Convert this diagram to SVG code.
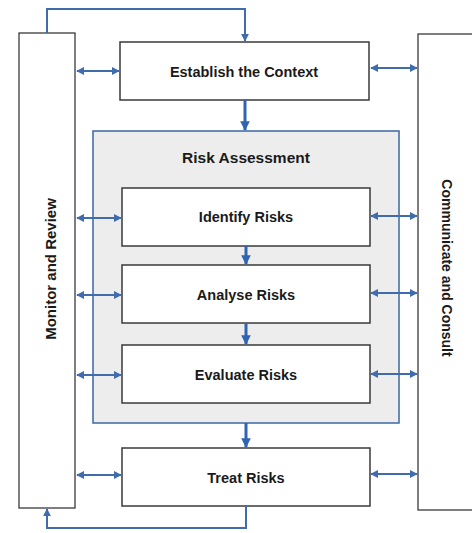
<svg xmlns="http://www.w3.org/2000/svg" width="472" height="533" viewBox="0 0 472 533">
  <style>
    .node { fill: #ffffff; stroke: #3a3a3a; stroke-width: 1.5; }
    .side { fill: #ffffff; stroke: #3a3a3a; stroke-width: 1.3; }
    .group { fill: #ededed; stroke: #3b66a3; stroke-width: 1.5; }
    .lbl { font-family: "Liberation Sans", Arial, sans-serif; font-weight: bold; font-size: 14.5px; fill: #1a1a1a; text-anchor: middle; }
    .title { font-size: 15.5px; }
    .vert { font-size: 15px; }
    .vert2 { font-size: 14px; }
    .link { fill: none; stroke: #3e6cad; stroke-width: 2; }
    .flow { fill: none; stroke: #2f65b0; stroke-width: 3; }
  </style>
  <defs>
    <marker id="ah" viewBox="0 0 10 10" refX="9" refY="5" markerWidth="4" markerHeight="4" orient="auto-start-reverse" markerUnits="strokeWidth">
      <path d="M0,0 L10,5 L0,10 z" fill="#3e6cad"/>
    </marker>
    <marker id="ahf" viewBox="0 0 10 10" refX="9" refY="5" markerWidth="3.2" markerHeight="3.2" orient="auto" markerUnits="strokeWidth">
      <path d="M0,0 L10,5 L0,10 z" fill="#2f65b0"/>
    </marker>
  </defs>

  <!-- side columns -->
  <g id="monitor-review">
    <rect class="side" x="19" y="33" width="56" height="475"/>
    <text class="lbl vert" transform="translate(56 269) rotate(-90)">Monitor and Review</text>
  </g>
  <g id="communicate-consult">
    <rect class="side" x="418" y="34" width="60" height="476"/>
    <text class="lbl vert2" transform="translate(442 268) rotate(90)">Communicate and Consult</text>
  </g>

  <!-- risk assessment container -->
  <g id="risk-assessment">
    <rect class="group" x="93" y="131" width="306" height="292"/>
    <text class="lbl title" x="246" y="163">Risk Assessment</text>
  </g>

  <g id="establish-context">
    <rect class="node" x="120" y="42" width="249" height="58"/>
    <text class="lbl" x="244" y="77">Establish the Context</text>
  </g>
  <g id="identify-risks">
    <rect class="node" x="122" y="188" width="248" height="58"/>
    <text class="lbl" x="246" y="222">Identify Risks</text>
  </g>
  <g id="analyse-risks">
    <rect class="node" x="122" y="265" width="248" height="58"/>
    <text class="lbl" x="246" y="300">Analyse Risks</text>
  </g>
  <g id="evaluate-risks">
    <rect class="node" x="122" y="345" width="248" height="58"/>
    <text class="lbl" x="246" y="380">Evaluate Risks</text>
  </g>
  <g id="treat-risks">
    <rect class="node" x="122" y="448" width="248" height="58"/>
    <text class="lbl" x="246" y="483">Treat Risks</text>
  </g>

  <g id="connectors">
    <!-- main flow -->
    <line class="flow" x1="245" y1="100" x2="245" y2="130" marker-end="url(#ahf)"/>
    <line class="flow" x1="246" y1="246" x2="246" y2="264" marker-end="url(#ahf)"/>
    <line class="flow" x1="246" y1="323" x2="246" y2="344" marker-end="url(#ahf)"/>
    <line class="flow" x1="246" y1="423" x2="246" y2="447" marker-end="url(#ahf)"/>

    <!-- feedback loops -->
    <polyline class="link" points="47,33 47,9 245,9 245,41" marker-end="url(#ah)"/>
    <polyline class="link" points="246,506 246,528 47,528 47,509" marker-end="url(#ah)"/>

    <!-- monitor and review links -->
    <line class="link" x1="77" y1="71" x2="119" y2="71" marker-start="url(#ah)" marker-end="url(#ah)"/>
    <line class="link" x1="77" y1="218" x2="121" y2="218" marker-start="url(#ah)" marker-end="url(#ah)"/>
    <line class="link" x1="77" y1="295" x2="121" y2="295" marker-start="url(#ah)" marker-end="url(#ah)"/>
    <line class="link" x1="77" y1="375" x2="121" y2="375" marker-start="url(#ah)" marker-end="url(#ah)"/>
    <line class="link" x1="77" y1="475" x2="121" y2="475" marker-start="url(#ah)" marker-end="url(#ah)"/>

    <!-- communicate and consult links -->
    <line class="link" x1="371" y1="68" x2="417" y2="68" marker-start="url(#ah)" marker-end="url(#ah)"/>
    <line class="link" x1="371" y1="216" x2="417" y2="216" marker-start="url(#ah)" marker-end="url(#ah)"/>
    <line class="link" x1="371" y1="293" x2="417" y2="293" marker-start="url(#ah)" marker-end="url(#ah)"/>
    <line class="link" x1="371" y1="374" x2="417" y2="374" marker-start="url(#ah)" marker-end="url(#ah)"/>
    <line class="link" x1="371" y1="474" x2="417" y2="474" marker-start="url(#ah)" marker-end="url(#ah)"/>
  </g>
</svg>
